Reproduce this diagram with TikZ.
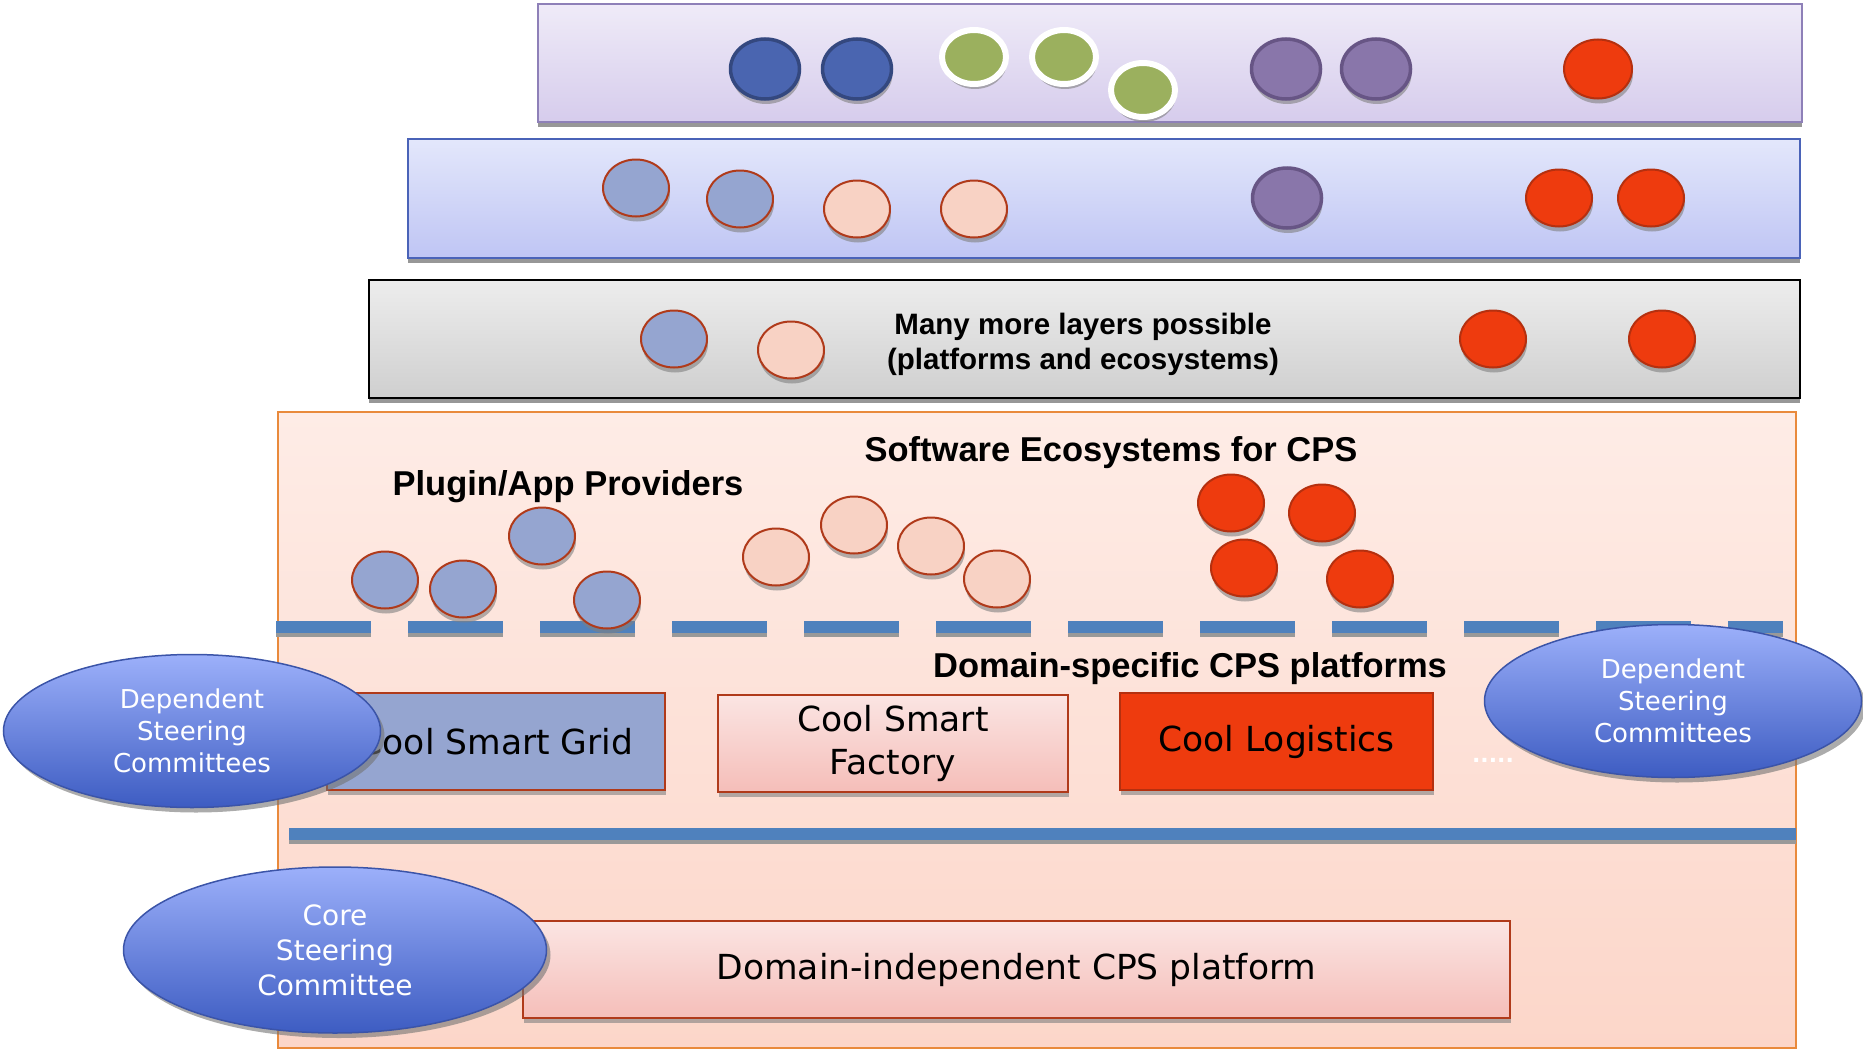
\documentclass[tikz,border=0pt]{standalone}
\usepackage{fontspec}
\setmainfont{DejaVu Sans}
\newfontfamily\arialfont{Liberation Sans}
\usetikzlibrary{shapes.geometric,shadows}
\definecolor{darkblueF}{HTML}{4A65B0}
\definecolor{darkblueB}{HTML}{34487F}
\definecolor{greenF}{HTML}{9BB05E}
\definecolor{purpleF}{HTML}{8976AA}
\definecolor{purpleB}{HTML}{675585}
\definecolor{redF}{HTML}{EE3B0E}
\definecolor{redB}{HTML}{B5300F}
\definecolor{lblueF}{HTML}{95A5D0}
\definecolor{peachF}{HTML}{F8D2C4}
\definecolor{brownB}{HTML}{B03A1A}
\definecolor{lOneTop}{HTML}{EFEBF8}
\definecolor{lOneBot}{HTML}{D6CCEC}
\definecolor{lOneB}{HTML}{8E80B8}
\definecolor{lTwoTop}{HTML}{E3E7FB}
\definecolor{lTwoBot}{HTML}{BFC5F4}
\definecolor{lTwoB}{HTML}{4A63B8}
\definecolor{lThreeTop}{HTML}{EDEDED}
\definecolor{lThreeBot}{HTML}{CFCFCF}
\definecolor{mainTop}{HTML}{FEECE6}
\definecolor{mainBot}{HTML}{FCD6C9}
\definecolor{mainB}{HTML}{E98A3C}
\definecolor{barblue}{HTML}{4F81BD}
\definecolor{pinkTop}{HTML}{FBE5E3}
\definecolor{pinkBot}{HTML}{F5BEB9}
\definecolor{cmtTop}{HTML}{9CB0FA}
\definecolor{cmtBot}{HTML}{3D5CC2}
\definecolor{cmtB}{HTML}{3B54A8}
\tikzset{
  layerbox/.style={rectangle, inner sep=0pt, line width=2pt,
    drop shadow={shadow xshift=0pt, shadow yshift=-5pt, fill=black!45, opacity=0.9}},
  dot/.style={ellipse, inner sep=0pt, minimum width=66pt, minimum height=57pt, line width=2pt,
    drop shadow={shadow xshift=1pt, shadow yshift=-5pt, fill=black!50, opacity=0.6}},
  bigdot/.style={dot, minimum width=69pt, minimum height=60pt},
  dkblue/.style={bigdot, fill=darkblueF, draw=darkblueB, line width=3.5pt},
  grn/.style={bigdot, fill=greenF, draw=white, line width=6pt, minimum width=64pt, minimum height=54pt},
  purp/.style={bigdot, fill=purpleF, draw=purpleB, line width=3.5pt},
  reddot/.style={dot, fill=redF, draw=redB},
  lblue/.style={dot, fill=lblueF, draw=brownB},
  peach/.style={dot, fill=peachF, draw=brownB},
  boldlabel/.style={font=\arialfont\bfseries\fontsize{34.5}{40}\selectfont, inner sep=0pt},
  platbox/.style={rectangle, inner sep=0pt, line width=2pt, minimum height=97pt, align=center,
    font=\fontsize{34.5}{43}\selectfont,
    drop shadow={shadow xshift=1pt, shadow yshift=-5pt, fill=black!50, opacity=0.6}},
  committee/.style={ellipse, inner sep=0pt, draw=cmtB, line width=1.5pt, top color=cmtTop, bottom color=cmtBot,
    text=white, align=center, font=\fontsize{26}{32}\selectfont,
    drop shadow={shadow xshift=4pt, shadow yshift=-5pt, fill=black!55, opacity=0.6}},
  barshadow/.style={line width=12pt, draw=black!40},
  bar/.style={line width=12pt, draw=barblue},
  dashbar/.style={dash pattern=on 95pt off 37pt}
}
\begin{document}
\begin{tikzpicture}[x=1pt,y=-1pt]
\useasboundingbox (0,0) rectangle (1863,1049);

% layers
\node[layerbox, draw=lOneB, top color=lOneTop, bottom color=lOneBot, minimum width=1264pt, minimum height=118pt] (layerone) at (1170,63) {};
\node[layerbox, draw=lTwoB, top color=lTwoTop, bottom color=lTwoBot, minimum width=1392pt, minimum height=119pt] (layertwo) at (1104,198.5) {};
\node[layerbox, draw=black, top color=lThreeTop, bottom color=lThreeBot, minimum width=1431pt, minimum height=118pt] (layerthree) at (1084.5,339) {};
\node[rectangle, inner sep=0pt, line width=2pt, draw=mainB, top color=mainTop, bottom color=mainBot, minimum width=1518pt, minimum height=636pt] (mainbox) at (1037,730) {};

% layer 1 dots
\node[dkblue] (a1) at (765,69) {};
\node[dkblue] (a2) at (857,69) {};
\node[grn] (a3) at (974,57) {};
\node[grn] (a4) at (1064,57) {};
\node[grn] (a5) at (1143,90) {};
\node[purp] (a6) at (1286,69) {};
\node[purp] (a7) at (1376,69) {};
\node[reddot, minimum width=68pt, minimum height=59pt] (a8) at (1598,69) {};

% layer 2 dots
\node[lblue] (b1) at (636,188) {};
\node[lblue] (b2) at (740,199) {};
\node[peach] (b3) at (857,209) {};
\node[peach] (b4) at (974,209) {};
\node[purp] (b5) at (1287,198) {};
\node[reddot] (b6) at (1559,198) {};
\node[reddot] (b7) at (1651,198) {};

% layer 3 dots and text
\node[lblue] (c1) at (674,339) {};
\node[peach] (c2) at (791,350) {};
\node[reddot] (c3) at (1493,339) {};
\node[reddot] (c4) at (1662,339) {};
\node[font=\arialfont\bfseries\fontsize{29.5}{35}\selectfont, align=center] (morelayers) at (1083,344) {Many more layers possible\\(platforms and ecosystems)};

% main labels
\node[boldlabel] (swlabel) at (1111,453) {Software Ecosystems for CPS};
\node[boldlabel] (pluginlabel) at (568,487) {Plugin/App Providers};
\node[boldlabel] (domlabel) at (1190,669) {Domain-specific CPS platforms};

% dashed bar
\coordinate (dashL) at (276,627);
\coordinate (dashR) at (1783,627);
\draw[barshadow, dashbar] ([yshift=-4pt]dashL) -- ([yshift=-4pt]dashR);
\draw[bar, dashbar] (dashL) -- (dashR);

% solid bar
\coordinate (barL) at (289,834);
\coordinate (barR) at (1796,834);
\draw[barshadow] ([yshift=-4pt]barL) -- ([yshift=-4pt]barR);
\draw[bar] (barL) -- (barR);

% main dots
\node[lblue] (d1) at (385,580) {};
\node[lblue] (d2) at (463,589) {};
\node[lblue] (d3) at (542,536) {};
\node[lblue] (d4) at (607,600) {};
\node[peach] (e1) at (776,557) {};
\node[peach] (e2) at (854,525) {};
\node[peach] (e3) at (931,546) {};
\node[peach] (e4) at (997,579) {};
\node[reddot] (f1) at (1231,503) {};
\node[reddot] (f2) at (1322,513) {};
\node[reddot] (f3) at (1244,568) {};
\node[reddot] (f4) at (1360,579) {};

% platforms
\node[platbox, draw=brownB, fill=lblueF, minimum width=338pt] (grid) at (496,741.5) {\raisebox{-3pt}{Cool Smart Grid}};
\node[platbox, draw=brownB, top color=pinkTop, bottom color=pinkBot, minimum width=350pt] (factory) at (893,743) {Cool Smart\\Factory};
\node[platbox, draw=redB, fill=redF, minimum width=313pt] (logistics) at (1276.5,741.5) {\raisebox{-3pt}{Cool Logistics}};
\node[text=white, font=\fontsize{22}{24}\selectfont\bfseries, inner sep=0pt] (dots) at (1493,760) {.....};
\node[platbox, draw=brownB, top color=pinkTop, bottom color=pinkBot, minimum width=987pt] (indep) at (1016.5,969.5) {\raisebox{-3pt}{Domain-independent CPS platform}};

% committees
\node[committee, minimum width=377pt, minimum height=153pt] (depL) at (192,731) {Dependent\\Steering\\Committees};
\node[committee, minimum width=377pt, minimum height=153pt] (depR) at (1673,701) {Dependent\\Steering\\Committees};
\node[committee, minimum width=423pt, minimum height=166pt, font=\fontsize{28}{35}\selectfont] (core) at (335,950) {Core\\Steering\\Committee};
\end{tikzpicture}
\end{document}
